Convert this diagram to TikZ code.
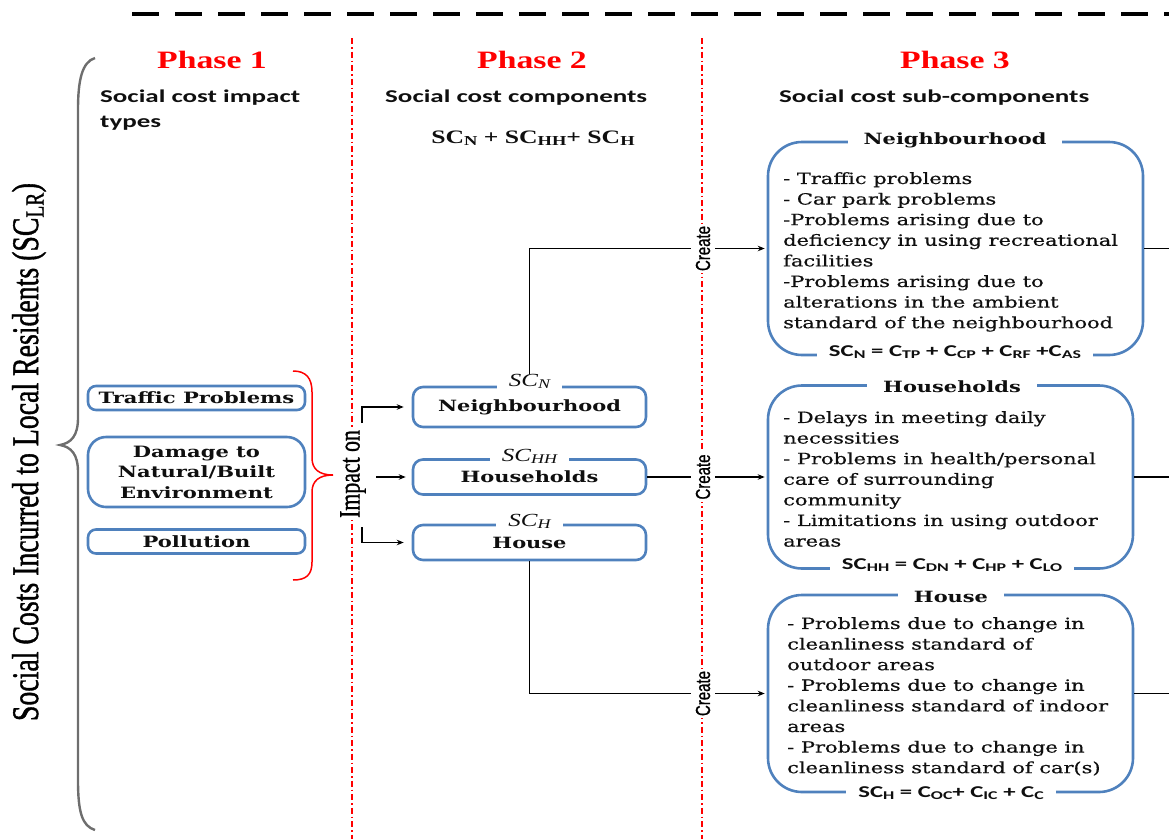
\documentclass[tikz,border=0pt]{standalone}
\usepackage{fontspec}
\usepackage{graphicx}
\setmainfont{DejaVu Serif}[FakeStretch=1.35, UprightFeatures={FakeBold=0.6}]
\newfontfamily\tnr{Liberation Serif}[FakeStretch=1.35]
\newfontfamily\clb{Carlito}[FakeStretch=1.5]
\newfontfamily\tnrv{Liberation Serif}[FakeBold=1.2]
\newfontfamily\arv{Liberation Sans}[FakeBold=1]
\usetikzlibrary{arrows.meta}
\definecolor{boxblue}{RGB}{79,129,189}
\definecolor{ink}{RGB}{15,15,15}
\definecolor{bracegray}{RGB}{110,110,110}
\newcommand\lo[1]{\raisebox{-0.25ex}{\scalebox{0.72}{#1}}}
\newcommand\fs[2]{\fontsize{#1}{#2}\selectfont}
\begin{document}
\begin{tikzpicture}[x=1pt,y=-1pt,
  p1box/.style={draw=boxblue, line width=2.6pt, rounded corners=8pt, minimum width=217pt, minimum height=24pt, inner sep=0pt, text=ink, font=\fs{15.6}{20.5}\bfseries, align=center},
  p2box/.style={draw=boxblue, line width=2.6pt, rounded corners=10pt, minimum width=233pt, inner sep=0pt, text=ink, font=\fs{15.5}{20}\bfseries},
  p3box/.style={draw=boxblue, line width=2.6pt, rounded corners=34pt, inner sep=0pt},
  lbl2/.style={fill=white, inner xsep=12pt, inner ysep=1pt, text=ink, font=\tnr\itshape\fs{18.5}{20}},
  ttl/.style={fill=white, inner xsep=16pt, inner ysep=1pt, text=ink, font=\fs{15.5}{20}\bfseries},
  fml/.style={fill=white, inner xsep=12pt, inner ysep=1pt, text=ink, font=\clb\bfseries\fs{16.5}{20}},
  body/.style={anchor=north west, inner sep=0pt, align=left, text=ink, font=\fs{15.5}{20.6}},
  ph/.style={text=red, font=\tnr\bfseries\fs{25}{30}},
  hdr/.style={text=ink, font=\clb\bfseries\fs{18}{25}, inner sep=0pt},
  crt/.style={rotate=90, fill=white, inner xsep=2pt, inner ysep=5pt, font=\arv\fs{15}{18}},
  conn/.style={line width=1.2pt, black},
  arr/.style={conn, -{Stealth[length=7pt,width=5.5pt]}},
  reddash/.style={red, line width=1.8pt, dash pattern=on 6pt off 3pt on 1.5pt off 3pt}
]
\useasboundingbox (0,0) rectangle (1169,838);

% top dashed line and red separators
\draw[line width=4pt, dash pattern=on 27pt off 16pt] (132,14) -- (1180,14);
\draw[reddash] (352,38) -- (352,845);
\draw[reddash] (702,38) -- (702,845);

% big left brace
\draw[bracegray, line width=2.4pt] (95,58) .. controls (82,62) and (78,80) .. (78,110) -- (78,418)
  .. controls (78,436) and (71,443) .. (60,445) .. controls (71,447) and (78,454) .. (78,472)
  -- (78,780) .. controls (78,812) and (82,826) .. (95,830);
\node[rotate=90, inner sep=0pt, text=black, font=\tnrv\fs{27.8}{30}] (title) at (29,452)
  {\scalebox{1}[1.35]{Social Costs Incurred to Local Residents (SC\textsubscript{LR})}};

% phase headings
\node[ph] (ph1) at (212,60) {Phase 1};
\node[ph] (ph2) at (532,60) {Phase 2};
\node[ph] (ph3) at (955,60) {Phase 3};
\node[hdr, anchor=north west, align=left] (h1) at (100,90) {Social cost impact\\types};
\node[hdr, anchor=west] (h2) at (385,98) {Social cost components};
\node[text=ink, font=\tnr\bfseries\fs{19}{22}] (h2f) at (533,138) {SC\lo{N} + SC\lo{HH}+ SC\lo{H}};
\node[hdr, anchor=west] (h3) at (779,98) {Social cost sub-components};

% phase 1 boxes
\node[p1box] (tp) at (196.5,398) {Traffic Problems};
\node[p1box, minimum height=70pt, rounded corners=18pt] (dm) at (196.5,472) {Damage to\\Natural/Built\\Environment};
\node[p1box] (pl) at (196.5,541.5) {Pollution};

% red brace
\draw[red, line width=1.5pt] (293,371) .. controls (306,371) and (312,378) .. (312,392) -- (312,458)
  .. controls (312,469) and (319,475) .. (333,475) .. controls (319,475) and (312,481) .. (312,492)
  -- (312,562) .. controls (312,575) and (306,580) .. (293,580);

% impact on
\node[rotate=90, inner sep=2pt, fill=white, text=black, font=\tnrv\fs{21.8}{24}] (imp) at (353,474)
  {\scalebox{1}[1.35]{Impact on}};

% phase 2 boxes
\node[p2box, minimum height=40pt] (nb2) at (529.5,407) {Neighbourhood};
\node[p2box, minimum height=35pt] (hh2) at (529.5,477) {Households};
\node[p2box, minimum height=35pt] (ho2) at (529.5,542.5) {House};

% phase 3 boxes
\node[p3box, minimum width=375pt, minimum height=213pt] (nb3) at (955.5,248.5) {};
\node[p3box, minimum width=365pt, minimum height=183pt] (hh3) at (950.5,477) {};
\node[p3box, minimum width=365pt, minimum height=197pt] (ho3) at (950.5,693.5) {};

% create labels
\node[crt] (c1) at (703,248.5) {\scalebox{1}[1.35]{Create}};
\node[crt] (c2) at (703,477) {\scalebox{1}[1.35]{Create}};
\node[crt] (c3) at (703,693.5) {\scalebox{1}[1.35]{Create}};

% connectors
\coordinate (i1) at (362,423);
\coordinate (i2) at (376,477);
\coordinate (i3) at (362,527);
\draw[arr, shorten >=8pt] (i1) |- (nb2.west);
\draw[arr, shorten >=6pt] (i2) -- (hh2.west);
\draw[arr, shorten >=8pt] (i3) |- (ho2.west);

\draw[conn] (nb2.north) |- (c1.north);
\draw[arr, shorten >=2pt] (c1.south) -- (nb3.west);
\draw[conn] (hh2.east) -- (c2.north);
\draw[arr, shorten >=2pt] (c2.south) -- (hh3.west);
\draw[conn] (ho2.south) |- (c3.north);
\draw[arr, shorten >=2pt] (c3.south) -- (ho3.west);

\coordinate (r1) at (1180,248.5);
\coordinate (r2) at (1180,477);
\coordinate (r3) at (1180,693.5);
\draw[conn] (nb3.east) -- (r1);
\draw[conn] (hh3.east) -- (r2);
\draw[conn] (ho3.east) -- (r3);

% phase 2 labels
\node[lbl2, yshift=4pt] (nbl) at (nb2.north) {SC\lo{N}};
\node[lbl2, yshift=2pt] (hhl) at (hh2.north) {SC\lo{HH}};
\node[lbl2, yshift=2pt] (hol) at (ho2.north) {SC\lo{H}};

% phase 3 titles, formulas, texts
\node[ttl] (nbt) at (955,140) {Neighbourhood};
\node[fml] (nbf) at (955,352) {SC\lo{N} = C\lo{TP} + C\lo{CP} + C\lo{RF} +C\lo{AS}};
\node[body] (nbx) at (783,172) {- Traffic problems\\- Car park problems\\-Problems arising due to\\deficiency in using recreational\\facilities\\-Problems arising due to\\alterations in the ambient\\standard of the neighbourhood};

\node[ttl] (hht) at (952,387) {Households};
\node[fml] (hhf) at (952,565) {SC\lo{HH} = C\lo{DN} + C\lo{HP} + C\lo{LO}};
\node[body] (hhx) at (783,411) {- Delays in meeting daily\\necessities\\- Problems in health/personal\\care of surrounding\\community\\- Limitations in using outdoor\\areas};

\node[ttl] (hot) at (951,597) {House};
\node[fml] (hof) at (951,793) {SC\lo{H} = C\lo{OC}+ C\lo{IC} + C\lo{C}};
\node[body] (hox) at (787,617) {- Problems due to change in\\cleanliness standard of\\outdoor areas\\- Problems due to change in\\cleanliness standard of indoor\\areas\\- Problems due to change in\\cleanliness standard of car(s)};
\end{tikzpicture}
\end{document}
